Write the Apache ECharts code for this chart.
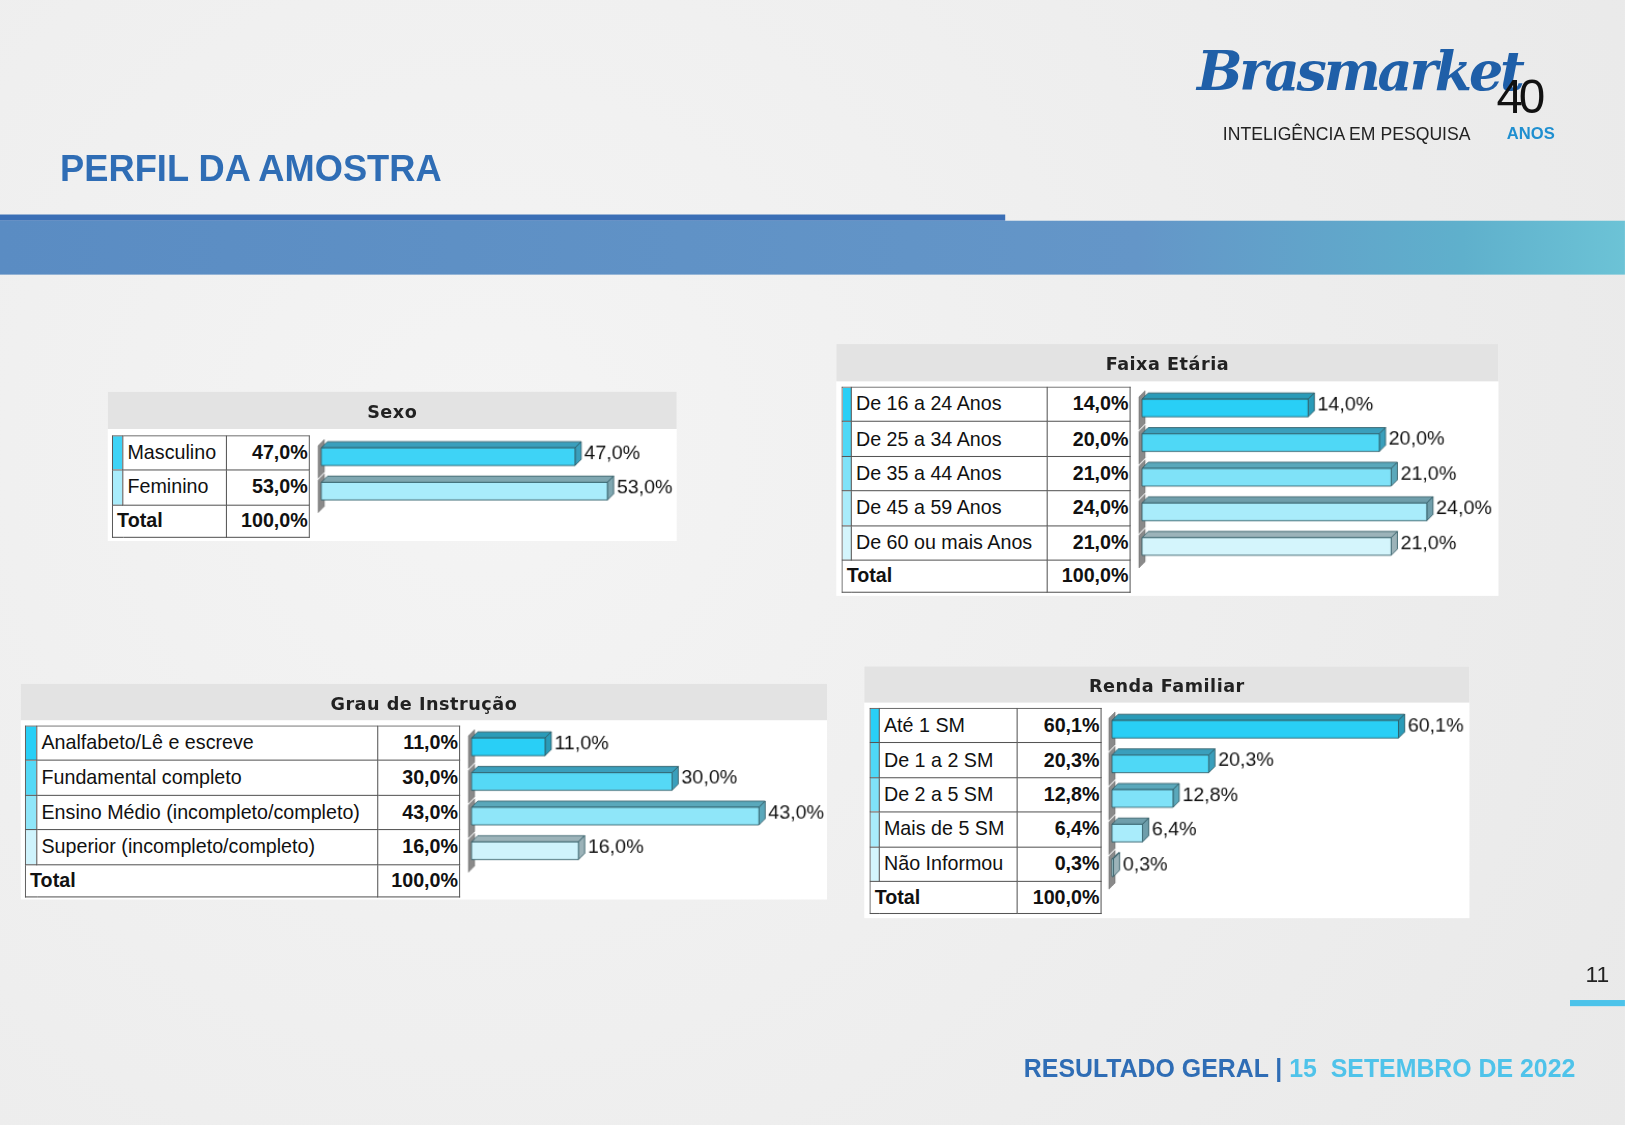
<!DOCTYPE html>
<html>
<head>
<meta charset="utf-8">
<title>Perfil da Amostra</title>
<script src="https://cdn.jsdelivr.net/npm/echarts@6/dist/echarts.min.js"></script>
<style>
  html, body { margin: 0; padding: 0; width: 1625px; height: 1125px; overflow: hidden; background: #eeeeee; }
  #page { position: absolute; left: 0; top: 0; width: 1568px; height: 1086px; transform: scale(1.0363); transform-origin: 0 0;
          font-family: "Liberation Sans", Arial, sans-serif;
          background: radial-gradient(circle at 30% 40%, #f4f4f4, #e9e9e9); }
  #chart { position: absolute; left: 0; top: 0; width: 1568px; height: 1086px; }
  .abs { position: absolute; }
  .panel { position: absolute; background: #fff; }
  .phead { position: absolute; background: #e3e3e3; text-align: center; font-family: "DejaVu Sans", sans-serif;
           font-size: 17px; font-weight: bold; color: #222; letter-spacing: 0.5px; }
  table.t { position: absolute; border-collapse: collapse; table-layout: fixed; font-size: 19px; color: #111; background: #fff; }
  table.t td { border: 1px solid #555; padding: 0 2px 0 4px; white-space: nowrap; overflow: hidden; box-sizing: border-box; }
  table.t td.sw { padding: 0; }
  table.t td.v { text-align: right; font-weight: bold; padding: 0 1px 0 0; }
  table.t tr.tot td { font-weight: bold; }
</style>
</head>
<body>
<div id="page">
  <div class="abs" style="left:0;top:207px;width:970px;height:6px;background:#3b6fb6"></div>
  <div class="abs" style="left:0;top:213px;width:1568px;height:52px;background:linear-gradient(90deg,#5a8cc3 0%,#6496c8 70%,#5fb0cc 90%,#6cc3d6 100%)"></div>
  <div class="abs" style="left:58px;top:143px;font-size:35px;font-weight:bold;color:#2f6db5">PERFIL DA AMOSTRA</div>
  <div class="abs" style="left:1155px;top:38px;font-family:'DejaVu Serif',serif;font-style:italic;font-weight:bold;font-size:52px;color:#1f5fa8;letter-spacing:-3px">Brasmarket</div>
  <div class="abs" style="left:1444px;top:66px;font-size:46px;color:#111;letter-spacing:-4px">40</div>
  <div class="abs" style="left:1180px;top:120px;font-size:17px;color:#222">INTELIGÊNCIA EM PESQUISA</div>
  <div class="abs" style="left:1454px;top:120px;font-size:16px;font-weight:bold;color:#1f8fd0">ANOS</div>

  <div class="panel" style="left:104px;top:378px;width:549px;height:144px"></div>
  <div class="phead" style="left:104px;top:378px;width:549px;height:36px;line-height:38px">Sexo</div>
  <div class="panel" style="left:807px;top:332px;width:639px;height:243px"></div>
  <div class="phead" style="left:807px;top:332px;width:639px;height:36px;line-height:38px">Faixa Etária</div>
  <div class="panel" style="left:20px;top:660px;width:778px;height:208px"></div>
  <div class="phead" style="left:20px;top:660px;width:778px;height:35px;line-height:38px">Grau de Instrução</div>
  <div class="panel" style="left:834px;top:643px;width:584px;height:243px"></div>
  <div class="phead" style="left:834px;top:643px;width:584px;height:35px;line-height:38px">Renda Familiar</div>

  <div id="chart"></div>
  <div id="tables"></div>

  <div class="abs" style="left:1530px;top:928px;font-size:22px;color:#222">11</div>
  <div class="abs" style="left:1515px;top:965px;width:53px;height:6px;background:#4cc3ea"></div>
  <div class="abs" style="left:988px;top:1017px;font-size:24px;font-weight:bold;color:#2f6db5">RESULTADO GERAL | <span style="color:#4fc3ea">15&nbsp; SETEMBRO DE 2022</span></div>
</div>
<script>
// ---- data ----
const sexoCats = ['Masculino', 'Feminino'];
const sexoVals = [47.0, 53.0];
const faixaCats = ['De 16 a 24 Anos', 'De 25 a 34 Anos', 'De 35 a 44 Anos', 'De 45 a 59 Anos', 'De 60 ou mais Anos'];
const faixaVals = [14.0, 20.0, 21.0, 24.0, 21.0];
const grauCats = ['Analfabeto/Lê e escreve', 'Fundamental completo', 'Ensino Médio (incompleto/completo)', 'Superior (incompleto/completo)'];
const grauVals = [11.0, 30.0, 43.0, 16.0];
const rendaCats = ['Até 1 SM', 'De 1 a 2 SM', 'De 2 a 5 SM', 'Mais de 5 SM', 'Não Informou'];
const rendaVals = [60.1, 20.3, 12.8, 6.4, 0.3];

const fmt = v => v.toFixed(1).replace('.', ',') + '%';

// front / top colours
const pal5 = [['#29cff6', '#2a9bb8'], ['#4fd8f6', '#3a9fbc'], ['#7fe2f8', '#5aa8bb'], ['#a9ecfb', '#6f9eab'], ['#d4f5fc', '#9cb3b9']];
const pal2 = [['#3ed3f6', '#3a9fbc'], ['#a9ecfb', '#7fa7b1']];
const pal4 = [['#29cff6', '#2a9bb8'], ['#55d9f6', '#3a9fbc'], ['#8fe6f9', '#5aa8bb'], ['#cff3fc', '#9cb3b9']];

// table x, top, row height, column widths (stripe, label, value), bar start, axis max, px per %
const panels = [
  { cats: sexoCats, vals: sexoVals, pal: pal2, tx: 108, ty: 420, rh: 33.3, w0: 10, w1: 100, w2: 80, gx: 310, max: 60, ppp: 5.21 },
  { cats: faixaCats, vals: faixaVals, pal: pal5, tx: 812, ty: 373, rh: 33.4, w0: 9, w1: 189, w2: 80, gx: 1102, max: 30, ppp: 11.45 },
  { cats: grauCats, vals: grauVals, pal: pal4, tx: 24, ty: 700, rh: 33.4, w0: 11, w1: 329, w2: 79, gx: 455, max: 50, ppp: 6.45 },
  { cats: rendaCats, vals: rendaVals, pal: pal5, tx: 839, ty: 683, rh: 33.4, w0: 9, w1: 133, w2: 81, gx: 1073, max: 70, ppp: 4.6 }
];

// ---- tables ----
let html = '';
panels.forEach(p => {
  html += '<table class="t" style="left:' + p.tx + 'px;top:' + p.ty + 'px;width:' + (p.w0 + p.w1 + p.w2) + 'px">' +
    '<colgroup><col style="width:' + p.w0 + 'px"><col style="width:' + p.w1 + 'px"><col style="width:' + p.w2 + 'px"></colgroup>';
  p.cats.forEach((c, i) => {
    html += '<tr style="height:' + p.rh + 'px"><td class="sw" style="background:' + p.pal[i][0] + '"></td>' +
      '<td>' + c + '</td><td class="v">' + fmt(p.vals[i]) + '</td></tr>';
  });
  const tot = p.vals.reduce((a, b) => a + b, 0);
  html += '<tr class="tot" style="height:' + (p.rh - 2) + 'px"><td colspan="2">Total</td><td class="v">' + fmt(Math.round(tot)) + '</td></tr></table>';
});
document.getElementById('tables').innerHTML = html;

// ---- bars ----
const chart = echarts.init(document.getElementById('chart'), null, { renderer: 'canvas' });
const grids = [], xAxes = [], yAxes = [], series = [];
panels.forEach((p, k) => {
  grids.push({ left: p.gx, top: p.ty, width: p.max * p.ppp, height: p.cats.length * p.rh });
  xAxes.push({ gridIndex: k, type: 'value', min: 0, max: p.max, show: false });
  yAxes.push({ gridIndex: k, type: 'category', data: p.cats, inverse: true, show: false });
  series.push({
    type: 'custom', xAxisIndex: k, yAxisIndex: k,
    data: p.vals.map((v, i) => [v, i]),
    renderItem: function (params, api) {
      const i = api.value(1);
      const e = api.coord([api.value(0), i]);
      const s = api.coord([0, i]);
      const d = 6, h = 17;
      const x0 = s[0], x1 = e[0], yc = e[1] + 4;
      const yt = yc - h / 2, yb = yc + h / 2;
      const col = p.pal[i];
      const half = p.rh / 2;
      return {
        type: 'group', children: [
          { type: 'polygon', shape: { points: [[x0 - 3, yc - half + 6], [x0 + 3, yc - half], [x0 + 3, yc + half - 2], [x0 - 3, yc + half + 4]] },
            style: { fill: '#8a8a8a', stroke: '#666', lineWidth: 0.5 } },
          { type: 'polygon', shape: { points: [[x0, yt], [x0 + d, yt - d], [x1 + d, yt - d], [x1, yt]] },
            style: { fill: col[1], stroke: '#2b5560', lineWidth: 0.8 } },
          { type: 'polygon', shape: { points: [[x1, yt], [x1 + d, yt - d], [x1 + d, yb - d], [x1, yb]] },
            style: { fill: col[1], stroke: '#2b5560', lineWidth: 0.8 } },
          { type: 'rect', shape: { x: x0, y: yt, width: Math.max(x1 - x0, 0.5), height: h },
            style: { fill: col[0], stroke: '#2b5560', lineWidth: 0.8 } },
          { type: 'text', style: { x: x1 + d + 3, y: yc - 3, text: fmt(api.value(0)), fill: '#111',
            font: '19px "Liberation Sans", Arial', verticalAlign: 'middle' } }
        ]
      };
    }
  });
});
chart.setOption({ animation: false, grid: grids, xAxis: xAxes, yAxis: yAxes, series: series });
</script>
</body>
</html>
